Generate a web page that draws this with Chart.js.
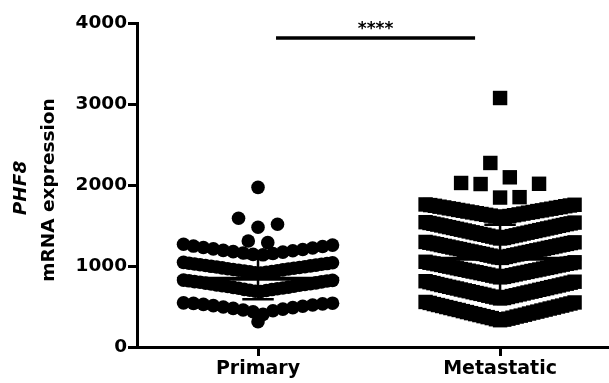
<!DOCTYPE html>
<html>
<head>
<meta charset="utf-8">
<script src="https://cdn.jsdelivr.net/npm/chart.js@4.4.1/dist/chart.umd.min.js"></script>
<style>
  html, body { margin: 0; padding: 0; background: #fff; }
</style>
</head>
<body>
<canvas id="grafico" width="609" height="383"></canvas>
<script>
// dados
const categorias = ["Primary", "Metastatic"];
const ticksY = [0, 1000, 2000, 3000, 4000];
const tituloY = ["PHF8", "mRNA expression"];
const textoSignificancia = "****";

const valoresPrimary = [
  312,
  403, 436, 447, 456, 468, 477, 486, 494, 503, 511, 519, 526, 532, 538, 541, 545,
  685, 689, 698, 701, 709, 712, 720, 726, 728, 736, 739, 747, 750, 757, 763, 765,
  773, 778, 781, 789, 792, 799, 804, 807, 814, 817, 823, 826,
  912, 915, 922, 928, 931, 937, 941, 948, 952, 957, 963, 966, 972, 977, 981, 987,
  990, 996, 1001, 1006, 1011, 1015, 1021, 1025, 1030, 1034, 1040, 1045,
  1138, 1144, 1155, 1160, 1171, 1177, 1188, 1193, 1204, 1211, 1222, 1228, 1240, 1246, 1258, 1268,
  1288, 1309,
  1478, 1515, 1589,
  1971
];

const valoresMetastatic = [
  331, 338, 343, 350, 357, 362, 369, 376, 381, 387, 394, 399, 406, 413, 418, 425, 431, 437, 443,
  450, 457, 462, 468, 475, 481, 486, 493, 500, 506, 511, 518, 525, 530, 537, 544, 550, 556,
  600, 605, 611, 617, 622, 629, 633, 639, 645, 650, 656, 661, 666, 673, 677, 683, 689, 694, 699, 706, 710,
  716, 722, 727, 732, 739, 743, 749, 755, 760, 765, 772, 777, 782, 789, 794, 800, 806, 812,
  860, 866, 871, 877, 881, 887, 893, 897, 902, 908, 912, 917, 923, 927, 932, 938, 942, 947, 953, 957,
  962, 968, 972, 977, 983, 987, 992, 998, 1002, 1007, 1013, 1017, 1022, 1028, 1032, 1036, 1040, 1046, 1052,
  1100, 1106, 1112, 1117, 1123, 1128, 1134, 1138, 1143, 1149, 1153, 1158, 1164, 1168, 1173, 1179, 1183, 1188, 1194, 1198, 1203,
  1209, 1213, 1218, 1224, 1228, 1233, 1239, 1243, 1248, 1254, 1258, 1263, 1269, 1273, 1278, 1283, 1287, 1292, 1297,
  1340, 1346, 1352, 1358, 1363, 1369, 1374, 1379, 1385, 1390, 1395, 1401, 1406, 1411, 1416, 1422, 1427, 1432, 1438, 1443,
  1448, 1453, 1459, 1464, 1469, 1474, 1480, 1485, 1490, 1496, 1501, 1506, 1511, 1517, 1521, 1526, 1531, 1536, 1541,
  1600, 1605, 1611, 1617, 1622, 1627, 1632, 1637, 1642, 1647, 1652, 1658, 1662, 1667, 1672, 1678, 1682, 1687,
  1692, 1698, 1703, 1707, 1712, 1718, 1723, 1727, 1732, 1738, 1743, 1747, 1752, 1756, 1760,
  1845, 1850, 2012, 2015, 2025,
  2095, 2272,
  3074
];

// média e DP
const mediaPrimary = 843;
const dpPrimary = 255;
const mediaMetastatic = 1090;
const dpMetastatic = 420;

const valorSignificancia = 3815;

// layout (unidades do eixo x)
const PASSO_BASE = 0.161;
const LARGURA_MAX = 1.231;
const MEIA_MEDIA = 0.67;
const MEIA_CAPA = 0.13;

const FONTE = "'DejaVu Sans', sans-serif";

function espalharPontos(valores, centro, faixaLinha, saltoMax) {
  const ordenados = [...valores].sort((a, b) => a - b);
  const linhas = [];
  let atual = [];

  ordenados.forEach(v => {
    if (atual.length && (v - atual[0] > faixaLinha || v - atual[atual.length - 1] > saltoMax)) {
      linhas.push(atual);
      atual = [];
    }
    atual.push(v);
  });
  if (atual.length) linhas.push(atual);

  const pontos = [];
  linhas.forEach(linha => {
    const n = linha.length;
    const passo = n > 1 ? Math.min(PASSO_BASE, LARGURA_MAX / (n - 1)) : 0;
    linha.forEach((v, i) => {
      let slot;
      if (n % 2 === 1) {
        slot = i === 0 ? 0 : Math.ceil(i / 2) * (i % 2 === 1 ? 1 : -1);
      } else {
        slot = (Math.floor(i / 2) + 0.5) * (i % 2 === 0 ? 1 : -1);
      }
      pontos.push({ x: centro + slot * passo, y: v });
    });
  });
  return pontos;
}

const resumos = [
  { centro: 1, media: mediaPrimary, dp: dpPrimary },
  { centro: 3, media: mediaMetastatic, dp: dpMetastatic }
];

const pluginMediaDP = {
  id: "mediaDP",
  afterDatasetsDraw(chart) {
    const { ctx, scales: { x, y } } = chart;
    ctx.save();
    ctx.strokeStyle = "#000";
    resumos.forEach(r => {
      const cx = x.getPixelForValue(r.centro);
      const ym = y.getPixelForValue(r.media);
      const yTop = y.getPixelForValue(r.media + r.dp);
      const yBot = y.getPixelForValue(r.media - r.dp);
      const meia = x.getPixelForValue(r.centro + MEIA_MEDIA) - cx;
      const capa = x.getPixelForValue(r.centro + MEIA_CAPA) - cx;

      ctx.lineWidth = 4;
      ctx.beginPath();
      ctx.moveTo(cx - meia, ym);
      ctx.lineTo(cx + meia, ym);
      ctx.stroke();

      ctx.lineWidth = 2.5;
      ctx.beginPath();
      ctx.moveTo(cx, yTop);
      ctx.lineTo(cx, yBot);
      ctx.moveTo(cx - capa, yTop);
      ctx.lineTo(cx + capa, yTop);
      ctx.moveTo(cx - capa, yBot);
      ctx.lineTo(cx + capa, yBot);
      ctx.stroke();
    });
    ctx.restore();
  }
};

const pluginAnotacoes = {
  id: "anotacoes",
  afterDraw(chart) {
    const { ctx, scales: { x, y } } = chart;
    ctx.save();

    // barra de significância
    const x1 = x.getPixelForValue(1) + 18;
    const x2 = x.getPixelForValue(3) - 25;
    const ys = y.getPixelForValue(valorSignificancia);
    ctx.strokeStyle = "#000";
    ctx.lineWidth = 3.5;
    ctx.beginPath();
    ctx.moveTo(x1, ys);
    ctx.lineTo(x2, ys);
    ctx.stroke();

    ctx.fillStyle = "#000";
    ctx.font = "bold 17px " + FONTE;
    ctx.textAlign = "center";
    ctx.textBaseline = "alphabetic";
    ctx.fillText(textoSignificancia, (x1 + x2) / 2, ys - 4);

    // título do eixo y
    ctx.save();
    ctx.translate(26, 188);
    ctx.rotate(-Math.PI / 2);
    ctx.font = "italic bold 18.5px " + FONTE;
    ctx.fillText(tituloY[0], 0, 0);
    ctx.restore();

    ctx.save();
    ctx.translate(54, 190);
    ctx.rotate(-Math.PI / 2);
    ctx.font = "bold 18.5px " + FONTE;
    ctx.fillText(tituloY[1], 0, 0);
    ctx.restore();

    ctx.restore();
  }
};

const ctx = document.getElementById("grafico").getContext("2d");

new Chart(ctx, {
  type: "scatter",
  data: {
    datasets: [
      {
        label: categorias[0],
        data: espalharPontos(valoresPrimary, 1, 145, 80),
        pointStyle: "circle",
        pointRadius: 6.8,
        pointBorderWidth: 0,
        backgroundColor: "#000",
        borderColor: "#000"
      },
      {
        label: categorias[1],
        data: espalharPontos(valoresMetastatic, 3, 225, 1000),
        pointStyle: "rect",
        pointRadius: 10.2,
        pointBorderWidth: 0,
        backgroundColor: "#000",
        borderColor: "#000"
      }
    ]
  },
  options: {
    responsive: false,
    animation: false,
    events: [],
    layout: {
      autoPadding: false,
      padding: { left: 0, right: 0, top: 23, bottom: 0 }
    },
    plugins: {
      legend: { display: false },
      tooltip: { enabled: false }
    },
    scales: {
      x: {
        type: "linear",
        min: 0,
        max: 3.9,
        afterBuildTicks: axis => {
          axis.ticks = [{ value: 1 }, { value: 3 }];
        },
        afterFit: scale => {
          scale.height = 36;
          scale.paddingLeft = 0;
          scale.paddingRight = 0;
        },
        ticks: {
          callback: v => categorias[(v - 1) / 2] || "",
          color: "#000",
          font: { family: FONTE, size: 19, weight: "bold" },
          padding: 2,
          maxRotation: 0,
          autoSkip: false
        },
        grid: {
          drawOnChartArea: false,
          drawTicks: true,
          tickLength: 9,
          tickWidth: 3,
          tickColor: "#000"
        },
        border: { display: true, color: "#000", width: 3 }
      },
      y: {
        min: 0,
        max: 4000,
        afterBuildTicks: axis => {
          axis.ticks = ticksY.map(v => ({ value: v }));
        },
        afterFit: scale => {
          scale.width = 137;
        },
        ticks: {
          callback: v => String(v),
          color: "#000",
          font: { family: FONTE, size: 18.5, weight: "bold" },
          padding: 1
        },
        grid: {
          drawOnChartArea: false,
          drawTicks: true,
          tickLength: 9,
          tickWidth: 3,
          tickColor: "#000"
        },
        border: { display: true, color: "#000", width: 3 }
      }
    }
  },
  plugins: [pluginMediaDP, pluginAnotacoes]
});
</script>
</body>
</html>
